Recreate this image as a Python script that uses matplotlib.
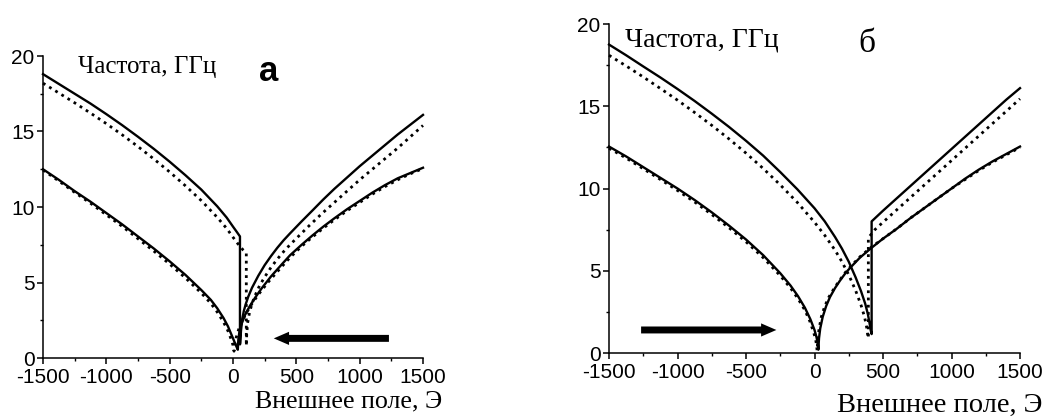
import matplotlib.pyplot as plt
from matplotlib.patches import FancyArrowPatch
from matplotlib.ticker import MultipleLocator

# ---- panel a: field swept from + to - ----
a_up_x = [-1500, -1375, -1250, -1125, -1000, -875, -750, -625, -500, -375, -250, -125, -50, 0, 30, 55,
          55, 57, 63, 72, 85, 100, 120, 150, 200, 250, 300, 350, 400, 450, 542, 625, 713, 800, 900,
          1000, 1100, 1200, 1300, 1400, 1500]
a_up_y = [18.8, 18.15, 17.5, 16.85, 16.15, 15.42, 14.65, 13.85, 13.0, 12.1, 11.15, 10.05, 9.3, 8.7, 8.35, 8.05,
          0.9, 1.0, 1.8, 2.5, 3.1, 3.55, 4.05, 4.65, 5.45, 6.15, 6.75, 7.3, 7.8, 8.25, 9.05, 9.75, 10.5, 11.2, 11.95,
          12.7, 13.4, 14.1, 14.8, 15.45, 16.1]
a_up_dot_x = [-1500, -1375, -1250, -1125, -1000, -875, -750, -625, -500, -375, -250, -125, -50, 0, 40, 80, 105,
              105, 108, 115, 130, 150, 175, 210, 253, 300, 350, 400, 450, 600, 700, 800, 900,
              1000, 1100, 1200, 1300, 1400, 1500]
a_up_dot_y = [18.2, 17.55, 16.9, 16.22, 15.52, 14.78, 14.0, 13.18, 12.32, 11.4, 10.42, 9.32, 8.58, 8.0, 7.55, 7.15, 6.95,
              0.8, 1.5, 2.3, 3.0, 3.6, 4.15, 4.8, 5.4, 6.0, 6.55, 7.05, 7.5, 8.75, 9.55, 10.3, 11.05,
              11.8, 12.5, 13.2, 13.9, 14.65, 15.4]
a_lo_x = [-1500, -1375, -1250, -1125, -1000, -875, -750, -625, -500, -375, -250, -175, -125, -75, -40, -10, 15, 30, 38,
          42, 50, 65, 95, 130, 175, 225, 300, 385, 450, 542, 625, 713, 800, 900, 1000, 1100, 1200, 1300, 1400, 1500]
a_lo_y = [12.5, 11.8, 11.05, 10.35, 9.6, 8.85, 8.05, 7.25, 6.4, 5.5, 4.5, 3.85, 3.3, 2.65, 2.1, 1.5, 1.0, 0.7, 0.55,
          1.2, 1.7, 2.2, 2.85, 3.4, 4.0, 4.6, 5.4, 6.2, 6.8, 7.5, 8.1, 8.7, 9.25, 9.85, 10.4, 10.95, 11.45, 11.9, 12.25, 12.6]
a_lo_dot_x = [-1500, -1375, -1250, -1125, -1000, -875, -750, -625, -500, -375, -250, -175, -125, -75, -40, -15, 0, 8,
              15, 25, 45, 75, 110, 150, 200, 275, 385, 450, 542, 625, 713, 800, 900, 1000, 1100, 1200, 1300, 1400, 1500]
a_lo_dot_y = [12.45, 11.72, 10.97, 10.25, 9.48, 8.72, 7.9, 7.08, 6.22, 5.3, 4.3, 3.62, 3.05, 2.38, 1.8, 1.25, 0.85, 0.45,
              0.9, 1.35, 1.9, 2.5, 3.05, 3.6, 4.2, 5.0, 6.05, 6.65, 7.4, 8.0, 8.6, 9.15, 9.75, 10.3, 10.85, 11.35, 11.8, 12.2, 12.55]

# ---- panel b: field swept from - to + ----
b_up_x = [-1500, -1375, -1250, -1125, -1000, -875, -750, -625, -500, -375, -250, -125, 0, 75, 150, 200, 250, 300,
          340, 370, 390, 402, 410, 417,
          417, 500, 600, 700, 800, 900, 1000, 1100, 1200, 1300, 1400, 1500]
b_up_y = [18.75, 18.1, 17.42, 16.75, 16.05, 15.32, 14.55, 13.75, 12.9, 12.0, 11.0, 9.95, 8.8, 8.0, 7.05, 6.35, 5.55, 4.6,
          3.75, 3.0, 2.35, 1.8, 1.4, 1.15,
          8.0, 8.65, 9.4, 10.15, 10.9, 11.65, 12.4, 13.15, 13.9, 14.65, 15.4, 16.1]
b_up_dot_x = [-1500, -1375, -1250, -1125, -1000, -875, -750, -625, -500, -375, -250, -125, 0, 75, 150, 200, 250, 300,
              340, 365, 380, 390,
              393, 393, 441, 500, 600, 700, 800, 900, 1000, 1100, 1200, 1300, 1400, 1500]
b_up_dot_y = [18.1, 17.45, 16.78, 16.08, 15.37, 14.62, 13.84, 13.02, 12.15, 11.22, 10.22, 9.15, 7.95, 7.15, 6.25, 5.55, 4.75, 3.8,
              2.9, 2.2, 1.6, 1.0,
              0.9, 7.0, 7.5, 7.95, 8.7, 9.45, 10.2, 10.95, 11.7, 12.45, 13.2, 13.95, 14.7, 15.45]
b_lo_x = [-1500, -1375, -1250, -1125, -1000, -875, -750, -625, -500, -375, -250, -175, -120, -70, -30, 0, 15, 25, 28,
          33, 42, 60, 85, 113, 150, 186, 230, 280, 332, 417, 500, 600, 700, 800, 900, 1000, 1100, 1200, 1300, 1400, 1500]
b_lo_y = [12.55, 11.95, 11.3, 10.65, 10.0, 9.3, 8.55, 7.75, 6.9, 5.95, 4.85, 4.1, 3.45, 2.75, 2.05, 1.4, 0.95, 0.5, 0.2,
          0.9, 1.5, 2.2, 2.85, 3.4, 3.95, 4.4, 4.9, 5.35, 5.8, 6.4, 6.95, 7.55, 8.2, 8.8, 9.4, 10.0, 10.6, 11.15, 11.65, 12.1, 12.55]
b_lo_dot_x = [-1500, -1375, -1250, -1125, -1000, -875, -750, -625, -500, -375, -250, -175, -120, -70, -35, -8, 8, 16, 19,
              24, 33, 50, 75, 105, 145, 186, 230, 280, 332, 417, 500, 600, 700, 800, 900, 1000, 1100, 1200, 1300, 1400, 1500]
b_lo_dot_y = [12.45, 11.85, 11.2, 10.55, 9.88, 9.18, 8.42, 7.62, 6.76, 5.8, 4.7, 3.95, 3.3, 2.6, 1.95, 1.3, 0.85, 0.4, 0.15,
              0.8, 1.45, 2.2, 2.85, 3.4, 3.95, 4.45, 4.95, 5.4, 5.85, 6.45, 6.95, 7.55, 8.2, 8.8, 9.4, 10.0, 10.55, 11.1, 11.6, 12.05, 12.5]

xticks = [-1500, -1000, -500, 0, 500, 1000, 1500]
yticks = [0, 5, 10, 15, 20]

serif = 'Liberation Serif'
sans = 'Liberation Sans'
plt.rcParams['font.family'] = sans
plt.rcParams['axes.unicode_minus'] = False

fig = plt.figure(figsize=(10.49, 4.19), dpi=100)
ax_a = fig.add_axes([43 / 1049, 61 / 419, 380 / 1049, 302 / 419])
ax_b = fig.add_axes([609 / 1049, 66 / 419, 411 / 1049, 329 / 419])

dot = (0, (1, 1.6))


def setup(ax, fs):
    ax.set_xlim(-1500, 1500)
    ax.set_ylim(0, 20)
    for s in ['top', 'right']:
        ax.spines[s].set_visible(False)
    for s in ['left', 'bottom']:
        ax.spines[s].set_linewidth(1.1)
    ax.set_xticks(xticks)
    ax.set_yticks(yticks)
    ax.xaxis.set_minor_locator(MultipleLocator(250))
    ax.yaxis.set_minor_locator(MultipleLocator(2.5))
    ax.tick_params(which='major', direction='out', length=4, width=1.1, labelsize=fs, pad=2)
    ax.tick_params(axis='x', which='major', pad=3.5)
    ax.tick_params(which='minor', direction='out', length=2.5, width=1.0)


def curves(ax, data):
    for x, y, style in data:
        if style == 'solid':
            ax.plot(x, y, color='black', lw=1.7, clip_on=False)
        else:
            ax.plot(x, y, color='black', lw=2.0, linestyle=dot, dash_capstyle='butt', clip_on=False)


def arrow(ax, tail, head):
    p = FancyArrowPatch(tail, head, arrowstyle='simple, head_length=1.1, head_width=0.95, tail_width=0.5',
                        mutation_scale=10, color='black', lw=0)
    ax.add_patch(p)


setup(ax_a, 15)
curves(ax_a, [(a_lo_dot_x, a_lo_dot_y, 'dot'), (a_up_dot_x, a_up_dot_y, 'dot'),
              (a_lo_x, a_lo_y, 'solid'), (a_up_x, a_up_y, 'solid')])
arrow(ax_a, (1253, 1.3), (300, 1.3))
ax_a.text(-1224, 19.3, 'Частота, ГГц', family=serif, fontsize=18, ha='left', va='center')
ax_a.text(284, 19.0, 'а', family=sans, fontsize=25, weight='bold', ha='center', va='center')
ax_a.text(1650, -2.9, 'Внешнее поле, Э', family=serif, fontsize=18.7, ha='right', va='center', clip_on=False)

setup(ax_b, 15)
curves(ax_b, [(b_lo_dot_x, b_lo_dot_y, 'dot'), (b_up_dot_x, b_up_dot_y, 'dot'),
              (b_lo_x, b_lo_y, 'solid'), (b_up_x, b_up_y, 'solid')])
arrow(ax_b, (-1286, 1.4), (-258, 1.4))
ax_b.text(-1383, 19.05, 'Частота, ГГц', family=serif, fontsize=20, ha='left', va='center')
ax_b.text(383, 18.8, 'б', family=serif, fontsize=24, ha='center', va='center')
ax_b.text(1661, -3.17, 'Внешнее поле, Э', family=serif, fontsize=20.5, ha='right', va='center', clip_on=False)

fig.savefig('out.png', dpi=100)
